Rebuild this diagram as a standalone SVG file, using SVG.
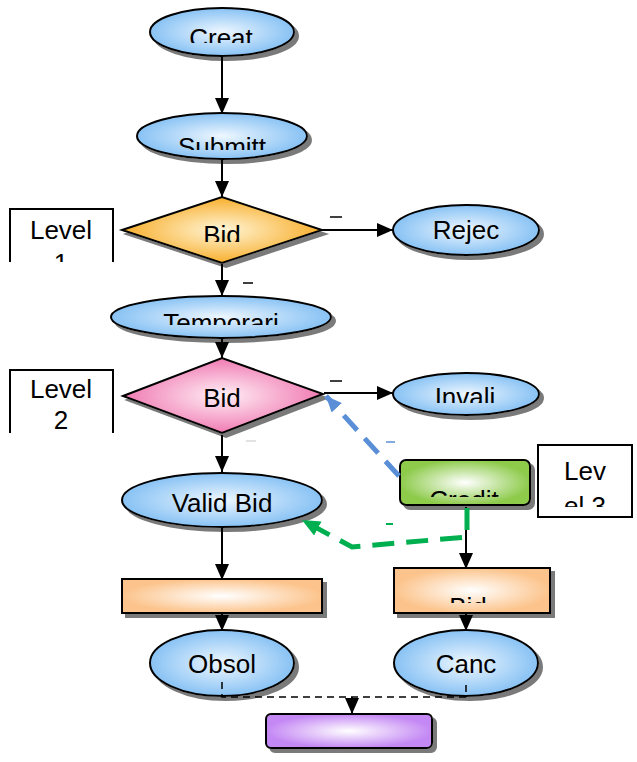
<svg xmlns="http://www.w3.org/2000/svg" width="637" height="762" viewBox="0 0 637 762">
<style>
.t{font-family:"Liberation Sans",Arial,sans-serif;font-size:26px;fill:#000;text-anchor:middle}
.o{stroke:#000;stroke-width:2}
.c{fill:none;stroke:#000;stroke-width:2}
.lb{fill:none;stroke:#000;stroke-width:1.5}
</style>
<defs>
<filter id="sh" x="-10%" y="-10%" width="130%" height="140%">
<feOffset in="SourceAlpha" dx="4" dy="4" result="o"/>
<feFlood flood-color="#7a7a7a"/>
<feComposite in2="o" operator="in" result="s"/>
<feMerge><feMergeNode in="s"/><feMergeNode in="SourceGraphic"/></feMerge>
</filter>
<radialGradient id="gB"><stop offset="0" stop-color="#eef7ff"/><stop offset="1" stop-color="#88c2f4"/></radialGradient>
<radialGradient id="gO"><stop offset="0" stop-color="#fff6d8"/><stop offset="1" stop-color="#f8ae2c"/></radialGradient>
<radialGradient id="gP"><stop offset="0" stop-color="#fff0f6"/><stop offset="1" stop-color="#f07ab2"/></radialGradient>
<radialGradient id="gR"><stop offset="0" stop-color="#ffffff"/><stop offset="1" stop-color="#fcc48c"/></radialGradient>
<radialGradient id="gG"><stop offset="0" stop-color="#ffffff"/><stop offset="1" stop-color="#8ecb4c"/></radialGradient>
<radialGradient id="gV"><stop offset="0" stop-color="#ffffff"/><stop offset="1" stop-color="#c488f4"/></radialGradient>
<marker id="ah" markerUnits="userSpaceOnUse" viewBox="0 0 16 14" markerWidth="16" markerHeight="14" refX="16" refY="7" orient="auto"><path d="M0,0 L16,7 L0,14z" fill="#000"/></marker>
<marker id="ahB" markerUnits="userSpaceOnUse" viewBox="0 0 16 14" markerWidth="16" markerHeight="14" refX="16" refY="7" orient="auto"><path d="M0,0 L16,7 L0,14z" fill="#5a8fd8"/></marker>
<marker id="ahG" markerUnits="userSpaceOnUse" viewBox="0 0 16 14" markerWidth="18" markerHeight="16" refX="16" refY="7" orient="auto"><path d="M0,0 L16,7 L0,14z" fill="#00b050"/></marker>
<clipPath id="cCreat"><rect x="150" y="0" width="150" height="43"/></clipPath>
<clipPath id="cSub"><rect x="130" y="120" width="180" height="30"/></clipPath>
<clipPath id="cBid1"><rect x="150" y="210" width="150" height="32"/></clipPath>
<clipPath id="cTemp"><rect x="110" y="300" width="220" height="25"/></clipPath>
<clipPath id="cInv"><rect x="395" y="375" width="140" height="28"/></clipPath>
<clipPath id="cCred"><rect x="400" y="460" width="130" height="37"/></clipPath>
<clipPath id="cL1"><rect x="0" y="200" width="130" height="62"/></clipPath>
<clipPath id="cL2"><rect x="0" y="360" width="130" height="73"/></clipPath>
<clipPath id="cL3"><rect x="538" y="445" width="96" height="62"/></clipPath>
<clipPath id="cBidR"><rect x="394" y="568" width="156" height="35"/></clipPath>
</defs>
<rect width="637" height="762" fill="#fff"/>

<g id="creat"><ellipse cx="222" cy="32" rx="72" ry="24" fill="url(#gB)" class="o" filter="url(#sh)"/><text class="t" x="221" y="47" clip-path="url(#cCreat)">Creat</text></g>
<g id="submit"><ellipse cx="222" cy="136" rx="85" ry="23" fill="url(#gB)" class="o" filter="url(#sh)"/><text class="t" x="222" y="156" clip-path="url(#cSub)">Submitt</text></g>
<g id="bid1"><polygon points="122,230 222,197 322,230 222,263" fill="url(#gO)" class="o" filter="url(#sh)"/><text class="t" x="222" y="244" clip-path="url(#cBid1)">Bid</text></g>
<g id="level1"><g clip-path="url(#cL1)"><path d="M10,262 V209 H113 V262" fill="none" stroke="#000" stroke-width="2"/><text class="t" x="61" y="239">Level</text><text class="t" x="61" y="272">1</text></g></g>
<g id="reject"><ellipse cx="466" cy="230" rx="73" ry="25" fill="url(#gB)" class="o" filter="url(#sh)"/><text class="t" x="466" y="239">Rejec</text></g>
<g id="temporari"><ellipse cx="221" cy="317" rx="110" ry="21" fill="url(#gB)" class="o" filter="url(#sh)"/><text class="t" x="221" y="332" clip-path="url(#cTemp)">Temporari</text></g>
<g id="bid2"><polygon points="123,396 222,358 323,394 222,433" fill="url(#gP)" class="o" filter="url(#sh)"/><text class="t" x="222" y="407">Bid</text></g>
<g id="level2"><g clip-path="url(#cL2)"><path d="M10,433 V370 H113 V433" fill="none" stroke="#000" stroke-width="2"/><text class="t" x="61" y="398">Level</text><text class="t" x="61" y="429">2</text></g></g>
<g id="invalid"><ellipse cx="466" cy="394" rx="73" ry="21" fill="url(#gB)" class="o" filter="url(#sh)"/><text class="t" x="465" y="406" clip-path="url(#cInv)">Invali</text></g>
<g id="credit"><rect x="400" y="460" width="130" height="45" rx="6" fill="url(#gG)" class="o" filter="url(#sh)"/><text class="t" x="464" y="509" clip-path="url(#cCred)">Credit</text></g>
<g id="level3"><rect x="538" y="445" width="94" height="72" fill="#fff" stroke="#000" stroke-width="2"/><g clip-path="url(#cL3)"><text class="t" x="585" y="480">Lev</text><text class="t" x="585" y="515">el 3</text></g></g>
<g id="valid"><ellipse cx="222" cy="500" rx="100" ry="27" fill="url(#gB)" class="o" filter="url(#sh)"/><text class="t" x="222" y="512">Valid Bid</text></g>
<g id="rect1"><rect x="122" y="579" width="200" height="34" fill="url(#gR)" class="o" filter="url(#sh)"/></g>
<g id="rect2"><rect x="394" y="568" width="156" height="45" fill="url(#gR)" class="o" filter="url(#sh)"/><text class="t" x="468" y="616" clip-path="url(#cBidR)">Bid</text></g>
<g id="obsolete"><ellipse cx="222" cy="663" rx="72" ry="33" fill="url(#gB)" class="o" filter="url(#sh)"/><text class="t" x="222" y="673">Obsol</text></g>
<g id="cancel"><ellipse cx="466" cy="663" rx="72" ry="33" fill="url(#gB)" class="o" filter="url(#sh)"/><text class="t" x="466" y="673">Canc</text></g>
<g id="purple"><rect x="266" y="714" width="166" height="34" rx="5" fill="url(#gV)" class="o" filter="url(#sh)"/></g>

<g id="connectors">
<path class="c" d="M222,57 V114" marker-end="url(#ah)"/>
<path class="c" d="M222,159 V197" marker-end="url(#ah)"/>
<path class="c" d="M322,230 H393" marker-end="url(#ah)"/>
<path class="c" d="M222,264 V296" marker-end="url(#ah)"/>
<path class="c" d="M222,339 V358" marker-end="url(#ah)"/>
<path class="c" d="M324,393 H393" marker-end="url(#ah)"/>
<path class="c" d="M222,435 V472" marker-end="url(#ah)"/>
<path class="c" d="M222,528 V580" marker-end="url(#ah)"/>
<path class="c" d="M222,614 V631" marker-end="url(#ah)"/>
<path class="c" d="M466,507 V569" marker-end="url(#ah)"/>
<path class="c" d="M466,614 V631" marker-end="url(#ah)"/>
<path d="M222,682 V697 H466 V682" fill="none" stroke="#000" stroke-width="1.5" stroke-dasharray="7,5"/>
<path class="c" d="M352,697 V714" marker-end="url(#ah)"/>
<path d="M399,476 L326,396" fill="none" stroke="#5a8fd8" stroke-width="5" stroke-dasharray="20,11" marker-end="url(#ahB)"/>
<path d="M467,508 V537 L352,547 L302,520" fill="none" stroke="#00b050" stroke-width="5" stroke-dasharray="22,12" marker-end="url(#ahG)"/>
<path class="lb" d="M330,217 H342"/>
<path class="lb" d="M243,283 H253"/>
<path class="lb" d="M330,381 H342"/>
<path d="M246,441 H256" stroke="#d8d8d8" stroke-width="1.5"/>
<path d="M386,442 H395" stroke="#5a8fd8" stroke-width="1.5"/>
<path d="M386,524 H393" stroke="#00b050" stroke-width="2"/>
</g>
</svg>
